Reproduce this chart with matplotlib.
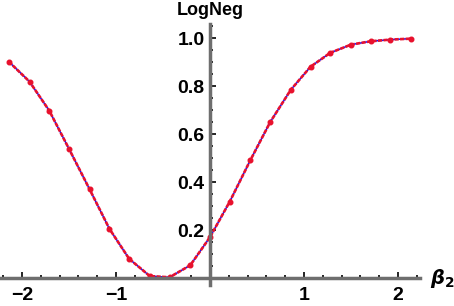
import matplotlib.pyplot as plt
import numpy as np

# data
beta2 = [-2.14, -1.92, -1.71, -1.50, -1.28, -1.07, -0.86, -0.64, -0.43, -0.21, 0.0,
         0.21, 0.43, 0.64, 0.86, 1.07, 1.28, 1.50, 1.71, 1.92, 2.14]
logneg = [0.903, 0.820, 0.699, 0.540, 0.371, 0.207, 0.082, 0.010, 0.005, 0.055, 0.172,
          0.320, 0.493, 0.651, 0.786, 0.882, 0.940, 0.974, 0.988, 0.995, 0.999]
xticks = [-2, -1, 1, 2]
yticks = [0.2, 0.4, 0.6, 0.8, 1.0]

plt.rcParams['font.family'] = ['Liberation Sans', 'DejaVu Sans']
plt.rcParams['font.weight'] = 'bold'
plt.rcParams['mathtext.fontset'] = 'dejavusans'

fig = plt.figure(figsize=(4.54, 3.06), dpi=100)
ax = fig.add_axes([0.0, 0.0899, 0.925, 0.8317])

red = '#e8112d'
ax.plot(beta2, logneg, color='#1010ff', lw=1.1, zorder=2)
ax.plot(beta2, logneg, color=red, lw=1.9, dashes=(1.6, 0.5), zorder=3)
ax.plot(beta2, logneg, 'o', color=red, ms=3.3, zorder=4)

ax.set_xlim(-2.234, 2.234)
ax.set_ylim(0, 1.06)

for s in ['top', 'right']:
    ax.spines[s].set_visible(False)
ax.spines['left'].set_position(('data', 0))
ax.spines['bottom'].set_position(('data', 0))
for s in ['left', 'bottom']:
    ax.spines[s].set_color('#6e6e6e')
    ax.spines[s].set_linewidth(2.5)
    ax.spines[s].set_zorder(5)
ax.spines['left'].set_bounds(-0.026, 1.06)

ax.set_xticks(xticks)
ax.set_yticks(yticks)
ax.set_xticks(np.arange(-2.2, 2.21, 0.2), minor=True)
ax.set_yticks(np.arange(0.05, 1.06, 0.05), minor=True)
ax.set_xticklabels(['\u22122', '\u22121', '1', '2'])
ax.set_yticklabels(['0.2', '0.4', '0.6', '0.8', '1.0'])
ax.tick_params(which='both', direction='in', color='black', labelsize=14, width=1.2)
ax.tick_params(which='major', length=4)
ax.tick_params(which='minor', length=2.2)
ax.tick_params(axis='x', pad=6)
ax.tick_params(axis='y', pad=4)

fig.text(210 / 454, 1 - 15 / 306, 'LogNeg', ha='center', va='baseline',
         fontsize=13, fontweight='bold')
fig.text(430 / 454, 1 - 279 / 306, r'$\boldsymbol{\beta}_\mathbf{2}$', ha='left', va='center',
         fontsize=14)

fig.savefig('out.png', dpi=100)
